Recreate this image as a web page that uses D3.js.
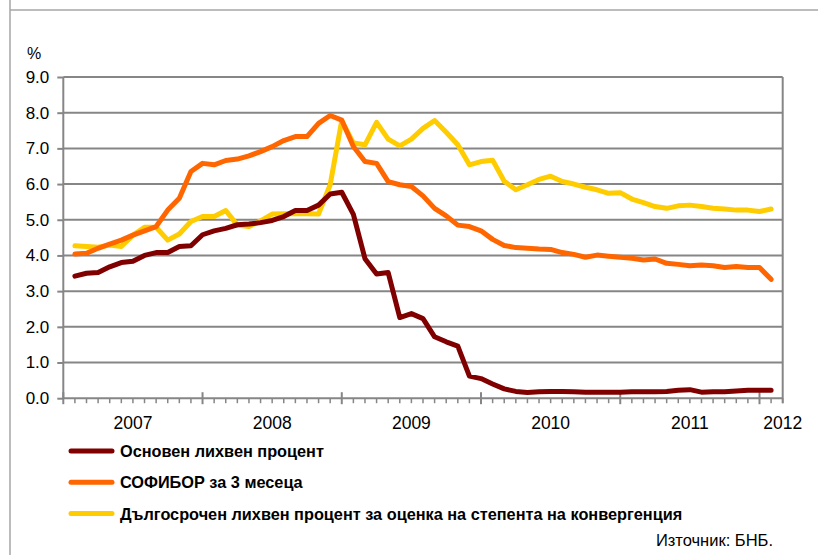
<!DOCTYPE html>
<html>
<head>
<meta charset="utf-8">
<script src="https://cdn.jsdelivr.net/npm/d3@7"></script>
<style>
  body { margin:0; background:#fff; }
  svg { font-family: "Liberation Sans", Arial, sans-serif; }
</style>
</head>
<body>
<div id="chart-area"></div>
<script>
// monthly values, Jan 2007 - Jan 2012
var baseRate = [3.42,3.50,3.52,3.68,3.80,3.84,4.00,4.08,4.08,4.25,4.27,4.58,
	4.69,4.76,4.86,4.88,4.92,4.98,5.09,5.26,5.26,5.41,5.72,5.77,
	5.15,3.91,3.48,3.52,2.26,2.37,2.23,1.72,1.58,1.46,0.62,0.55,
	0.40,0.26,0.19,0.16,0.18,0.19,0.19,0.18,0.17,0.17,0.17,0.17,
	0.18,0.18,0.18,0.19,0.22,0.24,0.17,0.18,0.18,0.20,0.22,0.22,
	0.22];
var sofibor = [4.04,4.06,4.20,4.32,4.43,4.57,4.69,4.81,5.27,5.60,6.35,6.58,
	6.54,6.66,6.70,6.79,6.91,7.05,7.22,7.33,7.33,7.70,7.92,7.79,
	7.05,6.63,6.58,6.07,5.98,5.93,5.67,5.32,5.11,4.85,4.81,4.69,
	4.45,4.28,4.22,4.20,4.18,4.17,4.08,4.03,3.95,4.01,3.98,3.95,
	3.92,3.87,3.90,3.78,3.75,3.71,3.73,3.71,3.66,3.69,3.66,3.66,
	3.33];
var longTerm = [4.27,4.25,4.23,4.29,4.25,4.57,4.79,4.79,4.43,4.60,4.95,5.09,
	5.09,5.26,4.85,4.81,4.97,5.16,5.17,5.17,5.17,5.16,5.98,7.78,
	7.15,7.10,7.73,7.26,7.07,7.26,7.56,7.78,7.45,7.10,6.54,6.63,
	6.67,6.08,5.84,5.98,6.13,6.22,6.07,6.00,5.91,5.84,5.74,5.76,
	5.58,5.48,5.37,5.32,5.39,5.41,5.37,5.32,5.30,5.27,5.27,5.23,
	5.30];
var years = ["2007","2008","2009","2010","2011","2012"];
var yTicks = [0,1,2,3,4,5,6,7,8,9];
var seriesNames = ["Основен лихвен процент", "СОФИБОР за 3 месеца",
	"Дългосрочен лихвен процент за оценка на степента на конвергенция"];
var colors = ["#800000", "#ff6600", "#ffcc00"];

var plotLeft = 63.3, plotRight = 782.7, plotTop = 77, plotBottom = 398.2;
var nMonths = 62;

var svg = d3.select("#chart-area")
	.append("svg")
		.attr("width", 818)
		.attr("height", 555);

// outer frame (top and left edges)
svg.append("line").attr("x1",10).attr("x2",818).attr("y1",10).attr("y2",10)
	.attr("stroke","#a6a6a6").attr("stroke-width",1.5);
svg.append("line").attr("x1",10).attr("x2",10).attr("y1",0).attr("y2",555)
	.attr("stroke","#a6a6a6").attr("stroke-width",1.5);

var x = d3.scaleLinear().domain([0, nMonths]).range([plotLeft, plotRight]);
var y = d3.scaleLinear().domain([0, 9]).range([plotBottom, plotTop]);

var gridColor = "#868686";

// horizontal grid
svg.append("g")
	.selectAll("line")
	.data(yTicks.filter(function(d){ return d > 0; }))
	.enter().append("line")
		.attr("x1", plotLeft).attr("x2", plotRight)
		.attr("y1", function(d){ return y(d); })
		.attr("y2", function(d){ return y(d); })
		.attr("stroke", gridColor)
		.attr("stroke-width", 2);

// right border
svg.append("line").attr("x1", plotRight).attr("x2", plotRight)
	.attr("y1", plotTop).attr("y2", plotBottom + 5)
	.attr("stroke", gridColor).attr("stroke-width", 2);

// y axis
var leftAxis = d3.axisLeft(y)
	.tickValues(yTicks)
	.tickSize(6)
	.tickPadding(8)
	.tickFormat(d3.format(".1f"));
var ya = svg.append("g")
	.attr("transform", "translate(" + plotLeft + ",0)")
	.call(leftAxis);
ya.select(".domain").attr("stroke", gridColor).attr("stroke-width", 2)
	.attr("d", "M0," + plotTop + "V" + plotBottom);
ya.selectAll(".tick line").attr("stroke", gridColor).attr("stroke-width", 2);
ya.selectAll(".tick text").attr("font-size", "17px").attr("fill", "#000")
	.attr("font-family", "Liberation Sans, Arial, sans-serif");

svg.append("text")
	.attr("x", 34).attr("y", 59)
	.attr("text-anchor", "middle")
	.attr("font-size", "16px")
	.text("%");

// x axis: minor month ticks and major year ticks
var xa = svg.append("g").attr("transform", "translate(0," + plotBottom + ")");
xa.append("line").attr("x1", plotLeft).attr("x2", plotRight)
	.attr("stroke", gridColor).attr("stroke-width", 2);
xa.selectAll(".minor")
	.data(d3.range(0, nMonths + 1))
	.enter().append("line")
		.attr("x1", function(d){ return x(d); })
		.attr("x2", function(d){ return x(d); })
		.attr("y1", function(d){ return d % 12 === 0 ? -6 : 0; })
		.attr("y2", function(d){ return d % 12 === 0 ? 6 : 5; })
		.attr("stroke", gridColor)
		.attr("stroke-width", function(d){ return d % 12 === 0 ? 2 : 1.5; });

xa.selectAll(".yr")
	.data(years)
	.enter().append("text")
		.attr("x", function(d, i){ return x(Math.min(i * 12 + 6, nMonths)); })
		.attr("y", 31)
		.attr("text-anchor", "middle")
		.attr("font-size", "17.5px")
		.text(function(d){ return d; });

// lines
var line = d3.line()
	.x(function(d, i){ return x(i + 1); })
	.y(function(d){ return y(d); });

var series = [baseRate, sofibor, longTerm];
[2, 1, 0].forEach(function(s){
	svg.append("path")
		.attr("d", line(series[s]))
		.attr("fill", "none")
		.attr("stroke", colors[s])
		.attr("stroke-width", 5)
		.attr("stroke-linejoin", "round")
		.attr("stroke-linecap", "round");
});

// legend
var lg = svg.append("g");
seriesNames.forEach(function(name, i){
	var ly = 451 + i * 31.3;
	lg.append("line")
		.attr("x1", 71).attr("x2", 112)
		.attr("y1", ly).attr("y2", ly)
		.attr("stroke", colors[i])
		.attr("stroke-width", 5)
		.attr("stroke-linecap", "round");
	lg.append("text")
		.attr("x", 120).attr("y", ly + 6)
		.attr("font-size", "16.3px")
		.attr("font-weight", "bold")
		.text(name);
});

svg.append("text")
	.attr("x", 773).attr("y", 546)
	.attr("text-anchor", "end")
	.attr("font-size", "16.5px")
	.text("Източник: БНБ.");
</script>
</body>
</html>
